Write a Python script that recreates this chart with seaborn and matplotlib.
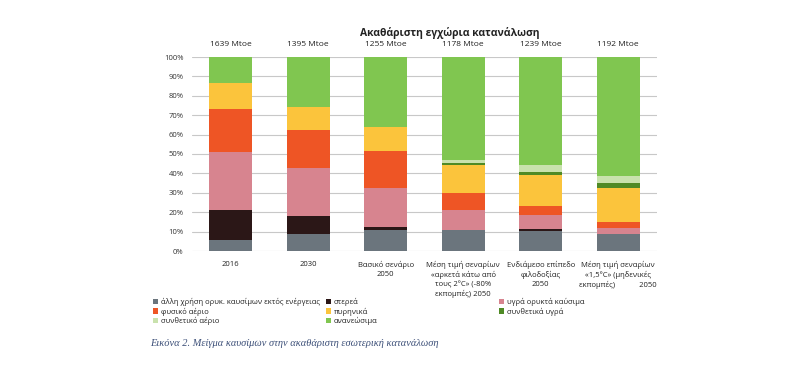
import matplotlib
matplotlib.use("Agg")
import matplotlib.pyplot as plt
from matplotlib.patches import Patch
from matplotlib.transforms import blended_transform_factory
import numpy as np
import pandas as pd
import seaborn as sns

categories = [
    "2016",
    "2030",
    "Βασικό σενάριο\n2050",
    "Μέση τιμή σεναρίων\n«αρκετά κάτω από\nτους 2°C» (-80%\nεκπομπές) 2050",
    "Ενδιάμεσο επίπεδο\nφιλοδοξίας\n2050",
    "Μέση τιμή σεναρίων\n«1,5°C» (μηδενικές\nεκπομπές)            2050",
]
totals = ["1639 Mtoe", "1395 Mtoe", "1255 Mtoe", "1178 Mtoe", "1239 Mtoe", "1192 Mtoe"]

series_names = [
    "άλλη χρήση ορυκ. καυσίμων εκτός ενέργειας",
    "στερεά",
    "υγρά ορυκτά καύσιμα",
    "φυσικό αέριο",
    "πυρηνικά",
    "συνθετικά υγρά",
    "συνθετικό αέριο",
    "ανανεώσιμα",
]
other_fossil = [5.7, 8.6, 10.8, 10.8, 10.5, 8.7]
solids = [15.5, 9.4, 1.8, 0.2, 0.7, 0.2]
liquid_fossil = [29.6, 25.0, 20.1, 10.2, 7.4, 2.9]
natural_gas = [22.3, 19.5, 18.9, 8.6, 4.6, 3.4]
nuclear = [13.5, 11.7, 12.1, 14.6, 16.0, 17.3]
synthetic_liquids = [0.0, 0.0, 0.0, 1.2, 1.4, 2.6]
synthetic_gas = [0.0, 0.0, 0.0, 1.4, 3.8, 3.5]
renewables = [13.4, 25.8, 36.3, 53.0, 55.6, 61.4]

series_values = [other_fossil, solids, liquid_fossil, natural_gas, nuclear,
                 synthetic_liquids, synthetic_gas, renewables]
colors = ["#6b757d", "#2b1717", "#d7848f", "#ee5525", "#fbc43c",
          "#4f8a25", "#c9e2ad", "#80c650"]

sns.set_style("white")
plt.rcParams["font.family"] = ["Open Sans", "DejaVu Sans"]

fig = plt.figure(figsize=(7.95, 3.72), dpi=100)
ax = fig.add_axes([192 / 795, 1 - 251 / 372, 465 / 795, 194 / 372])

bottom = np.zeros(len(categories))
for name, vals, col in zip(series_names, series_values, colors):
    vals = np.array(vals, dtype=float)
    sns.barplot(x=categories, y=vals, bottom=bottom, color=col, width=0.555,
                errorbar=None, ax=ax, zorder=3, linewidth=0, saturation=1)
    bottom = bottom + vals

ax.set_xlim(-0.5, 5.5)
ax.set_ylim(0, 100)
ax.set_yticks(np.arange(0, 101, 10))
ax.set_yticklabels([f"{v}%" for v in range(0, 101, 10)], fontsize=5.5, color="#333333")
ax.set_xticks(range(len(categories)))
ax.set_xticklabels(categories, fontsize=5.5, color="#222222", linespacing=1.35,
                   va="top")
ax.tick_params(axis="x", length=0, pad=7)
ax.tick_params(axis="y", length=0, pad=6)
ax.yaxis.grid(True, color="#c8c8c8", linewidth=0.8, zorder=0)
ax.set_axisbelow(True)
for s in ax.spines.values():
    s.set_visible(False)
ax.set_xlabel("")
ax.set_ylabel("")

trans = blended_transform_factory(ax.transData, ax.transAxes)
for i, t in enumerate(totals):
    ax.text(i, 1.062, t, transform=trans, ha="center", va="center",
            fontsize=6, color="#222222")

fig.text(450 / 795, 1 - 33 / 372, "Ακαθάριστη εγχώρια κατανάλωση",
         ha="center", va="center", fontsize=7.5, fontweight="bold", color="#222222")

handles = [Patch(facecolor=c, edgecolor="none", label=n) for n, c in zip(series_names, colors)]
col_groups = [[0, 3, 6], [1, 4, 7], [2, 5]]
col_x = [153, 326, 499]
for grp, x in zip(col_groups, col_x):
    leg = fig.legend(handles=[handles[i] for i in grp], loc="upper left",
                     bbox_to_anchor=(x / 795, 1 - 298 / 372), frameon=False,
                     fontsize=5.5, handlelength=0.7, handleheight=0.7,
                     handletextpad=0.3, labelspacing=0.2, borderpad=0,
                     borderaxespad=0)
    for txt in leg.get_texts():
        txt.set_color("#222222")

fig.text(150 / 795, 1 - 343 / 372,
         "Εικόνα 2. Μείγμα καυσίμων στην ακαθάριστη εσωτερική κατανάλωση",
         ha="left", va="center", fontsize=7.5, fontstyle="italic",
         family=["Liberation Serif", "DejaVu Serif"], color="#3c4f78")

fig.savefig("out.png", dpi=100, facecolor="white")
